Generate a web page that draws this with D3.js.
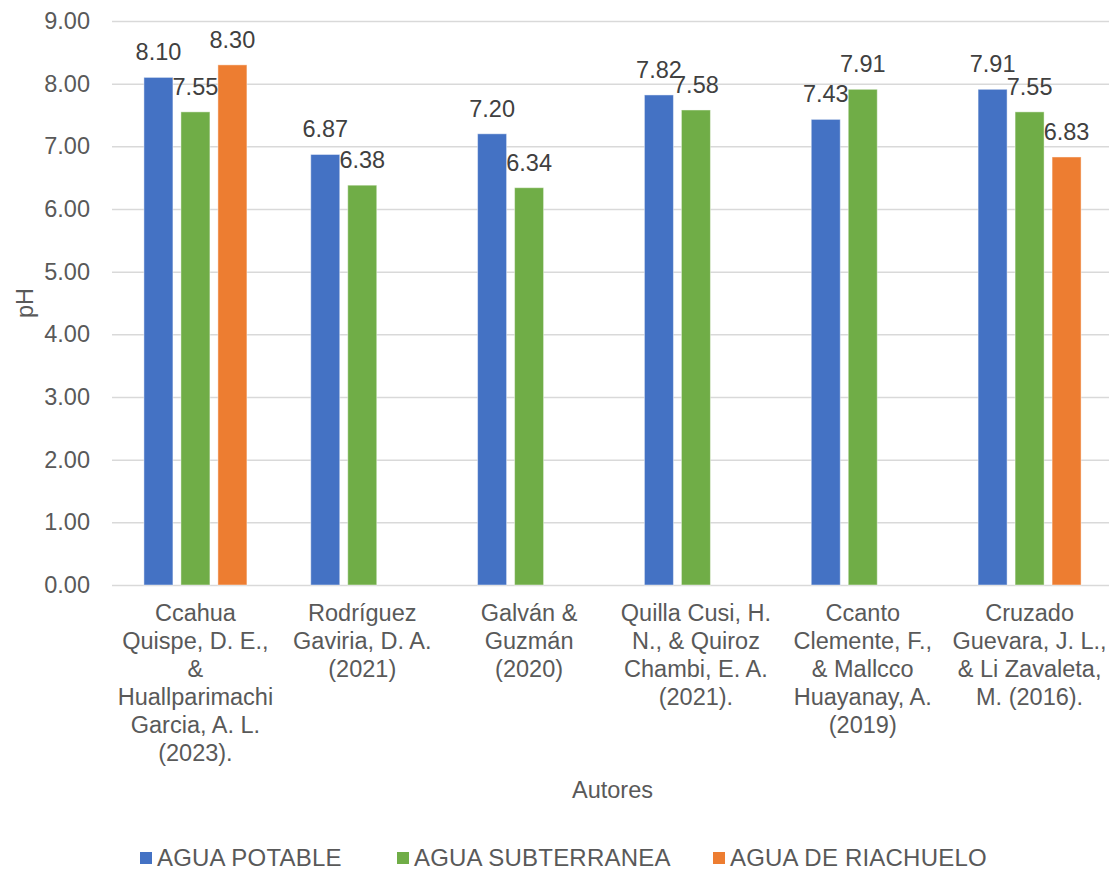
<!DOCTYPE html>
<html>
<head>
<meta charset="utf-8">
<script src="https://cdn.jsdelivr.net/npm/d3@7"></script>
<style>
  html, body { margin: 0; padding: 0; background: #fff; }
  svg { display: block; font-family: "Liberation Sans", Arial, sans-serif; }
</style>
</head>
<body>
<svg id="chart" width="1109" height="870"></svg>
<script>
// Authors (line breaks as they appear under each group)
const categories = [
  "Ccahua\nQuispe, D. E.,\n&\nHuallparimachi\nGarcia, A. L.\n(2023).",
  "Rodríguez\nGaviria, D. A.\n(2021)",
  "Galván &\nGuzmán\n(2020)",
  "Quilla Cusi, H.\nN., & Quiroz\nChambi, E. A.\n(2021).",
  "Ccanto\nClemente, F.,\n& Mallcco\nHuayanay, A.\n(2019)",
  "Cruzado\nGuevara, J. L.,\n& Li Zavaleta,\nM. (2016)."
];
const seriesNames = ["AGUA POTABLE", "AGUA SUBTERRANEA", "AGUA DE RIACHUELO"];
const aguaPotable = [8.10, 6.87, 7.20, 7.82, 7.43, 7.91];
const aguaSubterranea = [7.55, 6.38, 6.34, 7.58, 7.91, 7.55];
const aguaRiachuelo = [8.30, null, null, null, null, 6.83];
const yTicks = [0, 1, 2, 3, 4, 5, 6, 7, 8, 9];
const colors = ["#4472C4", "#70AD47", "#ED7D31"];

const seriesValues = [aguaPotable, aguaSubterranea, aguaRiachuelo];

const svg = d3.select("#chart");
const fontFamily = "'Liberation Sans', Arial, sans-serif";
const fontSize = 23.5;
const plot = { left: 112, right: 1113, top: 21, bottom: 585 };

const y = d3.scaleLinear().domain([0, 9]).range([plot.bottom, plot.top]);
const x0 = d3.scaleBand().domain(d3.range(categories.length))
  .range([plot.left, plot.right]).paddingInner(0).paddingOuter(0);
const groupWidth = 103;
const x1 = d3.scaleBand().domain(d3.range(seriesNames.length))
  .range([0, groupWidth]).paddingInner(0.216).paddingOuter(0);

// Gridlines and value axis
const yAxis = d3.axisLeft(y).tickValues(yTicks).tickSize(-(plot.right - plot.left))
  .tickPadding(22).tickFormat(d3.format(".2f"));
const gy = svg.append("g").attr("transform", `translate(${plot.left},0)`).call(yAxis);
gy.select(".domain").remove();
gy.selectAll(".tick line").attr("stroke", "#D9D9D9").attr("stroke-width", 1.5);
gy.selectAll(".tick text").attr("fill", "#595959").attr("font-size", fontSize)
  .attr("font-family", fontFamily);

// Bars
const groups = svg.append("g").selectAll("g")
  .data(categories.map((c, i) => i))
  .join("g")
  .attr("transform", i => `translate(${x0(i) + x0.bandwidth() / 2 - groupWidth / 2},0)`);

const barData = i => seriesValues.map((vals, s) => ({ s, v: vals[i] })).filter(d => d.v != null);

groups.selectAll("rect")
  .data(barData)
  .join("rect")
  .attr("x", d => x1(d.s))
  .attr("width", x1.bandwidth())
  .attr("y", d => y(d.v))
  .attr("height", d => y(0) - y(d.v))
  .attr("fill", d => colors[d.s])
  .attr("stroke", "rgba(255,255,255,0.45)")
  .attr("stroke-width", 1);

// Value labels
groups.selectAll("text.val")
  .data(barData)
  .join("text")
  .attr("class", "val")
  .attr("x", d => x1(d.s) + x1.bandwidth() / 2)
  .attr("y", d => y(d.v) - 17)
  .attr("text-anchor", "middle")
  .attr("font-size", fontSize)
  .attr("fill", "#404040")
  .text(d => d.v.toFixed(2));

// Category labels
const catG = svg.append("g");
categories.forEach((c, i) => {
  const cx = x0(i) + x0.bandwidth() / 2;
  const t = catG.append("text")
    .attr("x", cx)
    .attr("y", 621)
    .attr("text-anchor", "middle")
    .attr("font-size", fontSize)
    .attr("fill", "#595959");
  c.split("\n").forEach((line, k) => {
    t.append("tspan")
      .attr("x", cx)
      .attr("dy", k === 0 ? 0 : 28)
      .text(line);
  });
});

// Axis titles
svg.append("text")
  .attr("x", (plot.left + plot.right) / 2)
  .attr("y", 798)
  .attr("text-anchor", "middle")
  .attr("font-size", fontSize)
  .attr("fill", "#595959")
  .text("Autores");

svg.append("text")
  .attr("transform", `translate(33,${(plot.top + plot.bottom) / 2}) rotate(-90)`)
  .attr("text-anchor", "middle")
  .attr("font-size", fontSize)
  .attr("fill", "#595959")
  .text("pH");

// Legend
const legendX = [140, 397, 713];
const legend = svg.append("g");
seriesNames.forEach((name, s) => {
  legend.append("rect")
    .attr("x", legendX[s]).attr("y", 852)
    .attr("width", 12).attr("height", 12)
    .attr("fill", colors[s]);
  legend.append("text")
    .attr("x", legendX[s] + 17).attr("y", 866)
    .attr("font-size", 24)
    .attr("letter-spacing", 0.2)
    .attr("fill", "#595959")
    .text(name);
});
</script>
</body>
</html>
